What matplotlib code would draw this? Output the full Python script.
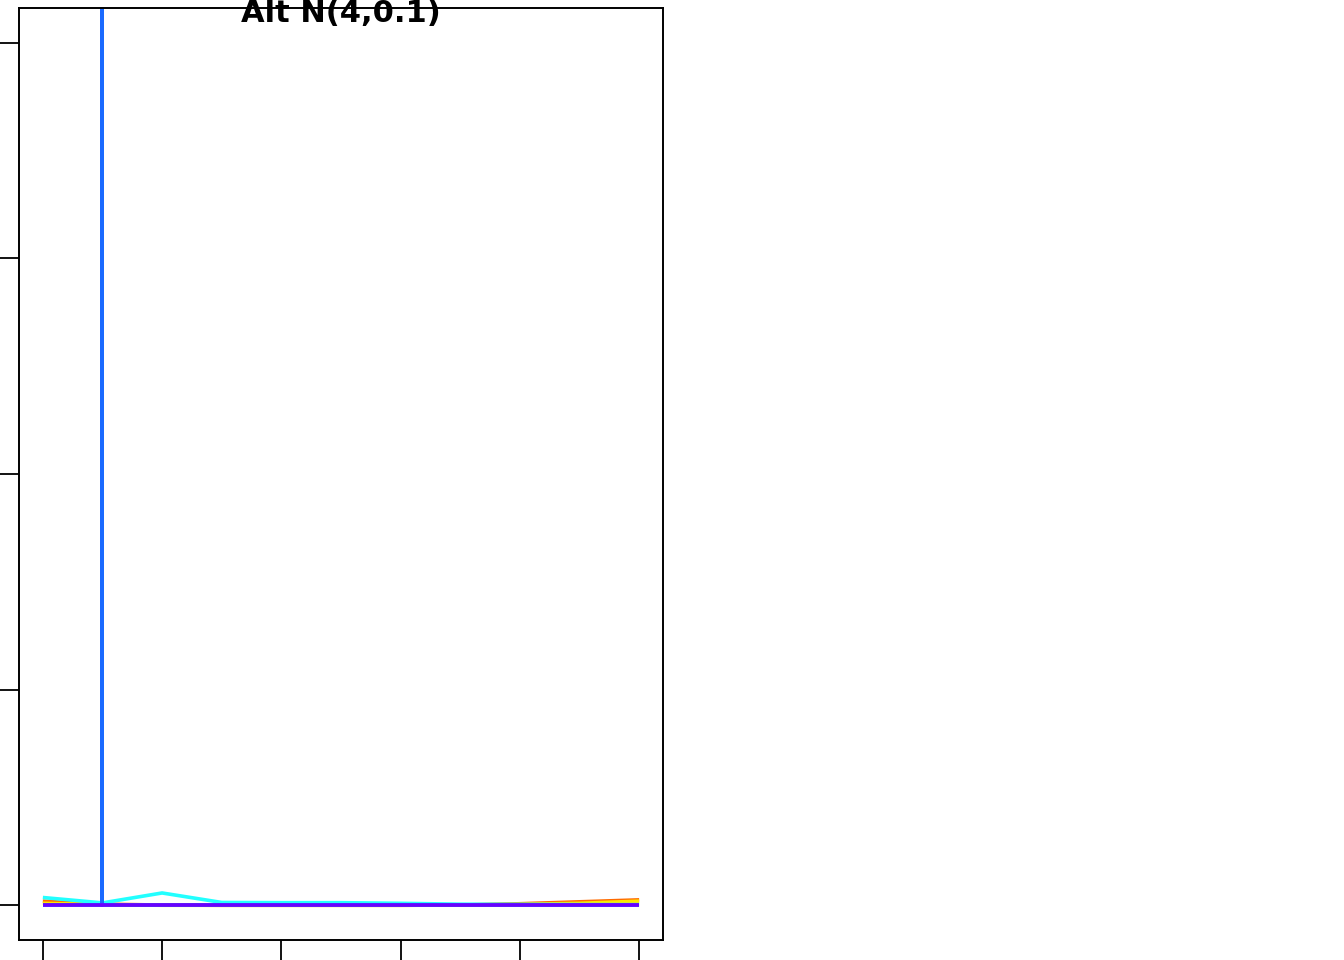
import matplotlib
matplotlib.use("Agg")
import matplotlib.pyplot as plt

x = [0.0, 0.1, 0.2, 0.3, 0.4, 0.5, 0.6, 0.7, 0.8, 0.9, 1.0]
orange = [0.020, 0.006, 0.002, 0.001, 0.001, 0.001, 0.001, 0.002, 0.008, 0.017, 0.026]
yellow = [0.010, 0.004, 0.001, 0.001, 0.001, 0.001, 0.001, 0.002, 0.005, 0.010, 0.020]
cyan = [0.037, 0.012, 0.058, 0.014, 0.013, 0.013, 0.010, 0.006, 0.005, 0.004, 0.004]
# blue series: spikes (off the chart) at x = 0.1
blue_x = [0.0, 0.1, 0.1, 0.1, 0.2, 0.3, 0.4, 0.5, 0.6, 0.7, 0.8, 0.9, 1.0]
blue_y = [0.0, 0.0, 1e3, 0.0, 0.0, 0.0, 0.0, 0.0, 0.0, 0.0, 0.0, 0.0, 0.0]
purple = [0.0, 0.0, 0.0, 0.0, 0.0, 0.0, 0.0, 0.0, 0.0, 0.0, 0.0]

xticks = [0.0, 0.2, 0.4, 0.6, 0.8, 1.0]
yticks = [0, 1, 2, 3, 4]

W, H = 1344, 960
fig = plt.figure(figsize=(W / 100, H / 100), dpi=100)
ax = fig.add_axes([19 / W, 1 - 940 / H, (663 - 19) / W, (940 - 8) / H])

lw = 2.6
ax.plot(x, orange, color="#FF6A00", lw=lw, solid_capstyle="butt")
ax.plot(x, yellow, color="#FFE800", lw=lw, solid_capstyle="butt")
ax.plot(x, cyan, color="#22FFFF", lw=lw, solid_capstyle="butt")
ax.plot(blue_x, blue_y, color="#1A6AFF", lw=lw, solid_capstyle="butt")
ax.plot(x, purple, color="#6A00FF", lw=lw, solid_capstyle="butt")

ax.set_xlim(-0.04, 1.04)
ax.set_ylim(-0.16, 4.16)
ax.set_xticks(xticks)
ax.set_yticks(yticks)
ax.set_xticklabels([])
ax.set_yticklabels([])
ax.tick_params(direction="out", length=16, width=1.3, color="black")
for s in ax.spines.values():
    s.set_linewidth(1.4)
    s.set_color("black")

fig.text(341 / W, 1 - 22 / H, "Alt N(4,0.1)", ha="center", va="baseline",
         fontsize=22, fontweight="bold", family="DejaVu Sans")

fig.savefig("out.png", dpi=100)
